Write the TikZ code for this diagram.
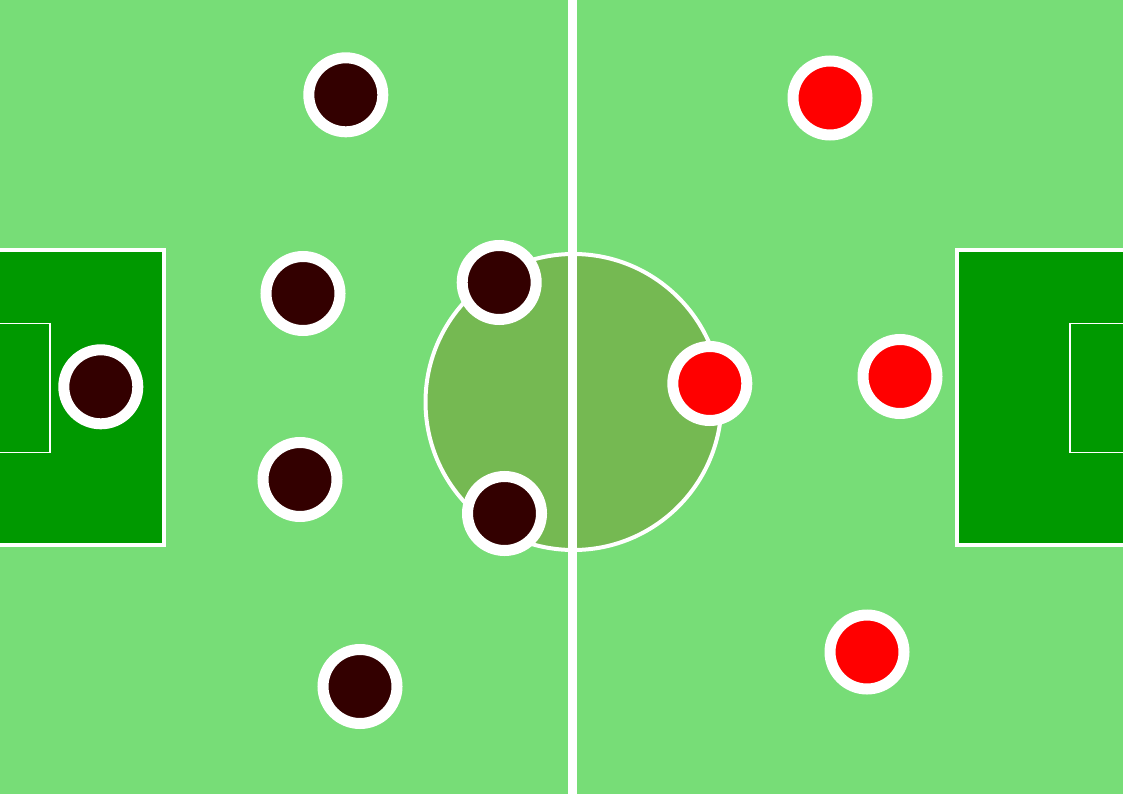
\documentclass[tikz,border=0pt]{standalone}
\definecolor{pitch}{HTML}{77DD77}
\definecolor{boxgreen}{HTML}{009900}
\definecolor{circgreen}{HTML}{75B952}
\definecolor{darkteam}{HTML}{330000}
\definecolor{redteam}{HTML}{FF0000}
\tikzset{
  player/.style={circle, draw=white, line width=11pt, inner sep=0pt, minimum size=74pt},
  darkplayer/.style={player, fill=darkteam},
  redplayer/.style={player, fill=redteam},
  pitchline/.style={draw=white, line width=4pt},
  goalline/.style={draw=white, line width=1.3pt}
}
\begin{document}
\begin{tikzpicture}[x=1pt,y=-1pt]
\useasboundingbox (0,0) rectangle (1123,794);
\fill[pitch] (0,0) rectangle (1123,794);
% penalty areas
\filldraw[boxgreen, pitchline] (-10,250.3) rectangle (163.7,545.3);
\filldraw[boxgreen, pitchline] (1133,250.3) rectangle (957,545.3);
% goal areas
\draw[goalline] (-10,323.3) rectangle (50,452.3);
\draw[goalline] (1133,323.3) rectangle (1070,452.3);
% centre circle
\filldraw[fill=circgreen, pitchline] (573.5,402) circle[radius=148];
% halfway line
\draw[draw=white, line width=9pt] (572,-5) -- (572,800);
% dark team
\node[darkplayer] (d1) at (345.8,94.8) {};
\node[darkplayer] (d2) at (303,293.5) {};
\node[darkplayer] (d3) at (499.2,282.5) {};
\node[darkplayer] (d4) at (100.8,386.8) {};
\node[darkplayer] (d5) at (300,479.5) {};
\node[darkplayer] (d6) at (504.5,513.5) {};
\node[darkplayer] (d7) at (360,686.5) {};
% red team
\node[redplayer] (r1) at (830,98) {};
\node[redplayer] (r2) at (709.8,383.5) {};
\node[redplayer] (r3) at (900,376.5) {};
\node[redplayer] (r4) at (867,652) {};
\end{tikzpicture}
\end{document}
